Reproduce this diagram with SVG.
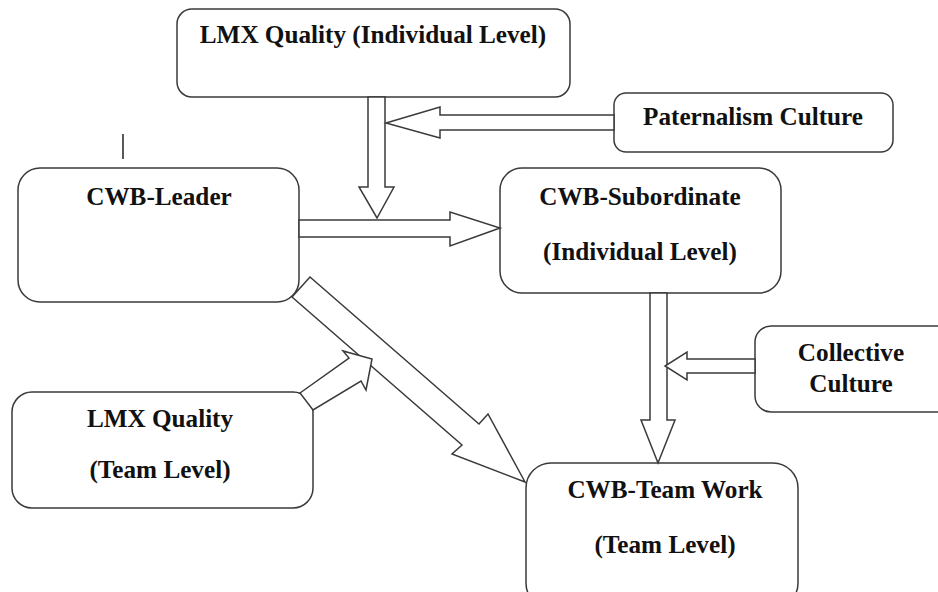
<svg xmlns="http://www.w3.org/2000/svg" width="938" height="592" viewBox="0 0 938 592">
<style>
.box{fill:#fff;stroke:#3a3a3a;stroke-width:1.5}
.arr{fill:#fff;stroke:#3a3a3a;stroke-width:1.5;stroke-linejoin:miter}
.t{font-family:'Liberation Serif','Times New Roman',Tinos,'DejaVu Serif',serif;font-weight:700;font-size:25.2px;fill:#111;text-anchor:middle}
</style>
<rect width="938" height="592" fill="#fff"/>
<g id="nodes">
<g id="lmx-individual"><rect class="box" x="177" y="9" width="393" height="88" rx="15"/><text class="t" x="373" y="43">LMX Quality (Individual Level)</text></g>
<g id="paternalism"><rect class="box" x="614" y="93" width="279" height="59" rx="12"/><text class="t" x="753" y="125">Paternalism Culture</text></g>
<g id="cwb-leader"><rect class="box" x="18" y="168" width="281" height="134" rx="22"/><text class="t" x="159" y="205">CWB-Leader</text></g>
<g id="cwb-subordinate"><rect class="box" x="500" y="168" width="281" height="125" rx="22"/><text class="t" x="640" y="205">CWB-Subordinate</text><text class="t" x="640" y="260">(Individual Level)</text></g>
<g id="collective"><rect class="box" x="755" y="326" width="200" height="86" rx="16"/><text class="t" x="851" y="361">Collective</text><text class="t" x="851" y="392">Culture</text></g>
<g id="lmx-team"><rect class="box" x="12" y="392" width="301" height="116" rx="20"/><text class="t" x="160" y="427">LMX Quality</text><text class="t" x="160" y="478">(Team Level)</text></g>
<g id="cwb-teamwork"><rect class="box" x="526" y="463" width="272" height="145" rx="25"/><text class="t" x="665" y="498">CWB-Team Work</text><text class="t" x="665" y="553">(Team Level)</text></g>
</g>
<line x1="123" y1="134" x2="123" y2="159" stroke="#222" stroke-width="1.5"/>
<g id="connectors">
<polygon class="arr" points="368,97 385,97 385,187 394,187 377,218 359,187 368,187"/>
<polygon class="arr" points="614,115 440,115 440,107 386,123 440,138 440,130 614,130"/>
<polygon class="arr" points="299,220 450,220 450,212 500,228 450,246 450,237 299,237"/>
<polygon class="arr" points="650,293 667,293 667,420 675,420 658,463 641,420 650,420"/>
<polygon class="arr" points="755,359 687,359 687,352 665,366 687,380 687,373 755,373"/>
<polygon class="arr" points="292,297 462,445 452,454 525,482 488,414 479,424 310,277"/>
<polygon class="arr" points="300,393 349,358 343,351 372,359 366,390 361,381 313,410"/>
</g>
</svg>
